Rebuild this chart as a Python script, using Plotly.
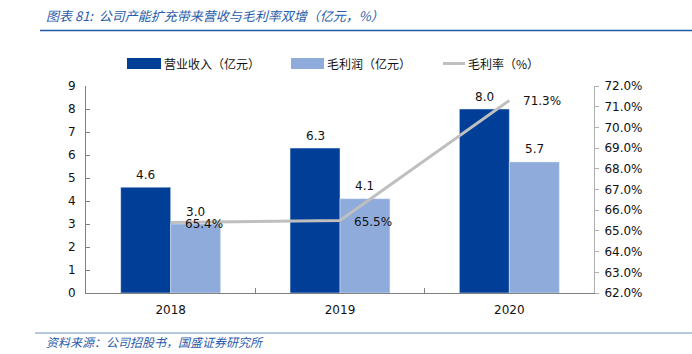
import plotly.graph_objects as go

years = ["2018", "2019", "2020"]
revenue = [4.6, 6.3, 8.0]
gross_profit = [3.0, 4.1, 5.7]
gross_margin = [65.4, 65.5, 71.3]

DARK = "#003E97"
LIGHT = "#8FABDC"
GRAY = "#BFBFBF"
TITLE_BLUE = "#2A5CAA"
NUM_FONT = "DejaVu Sans"
CJK = "Noto Sans CJK SC"

W, H = 692, 354
ML, MR, MT, MB = 86, 98, 86, 61
PW, PH = W - ML - MR, H - MT - MB
BARGAP = 0.41
BAR_OFFSET = PW / len(years) * (1 - BARGAP) / 4  # pixel offset of each bar center

def px(p):
    return (p - ML) / PW
def py(p):
    return (H - MB - p) / PH

fig = go.Figure()
fig.add_trace(go.Bar(x=years, y=revenue, name="营业收入（亿元）", marker_color=DARK,
                     showlegend=False))
fig.add_trace(go.Bar(x=years, y=gross_profit, name="毛利润（亿元）", marker_color=LIGHT,
                     showlegend=False))
fig.add_trace(go.Scatter(x=years, y=gross_margin, yaxis="y2", mode="lines",
                         line=dict(color=GRAY, width=3), name="毛利率（%）",
                         showlegend=False))

for i, (r, g) in enumerate(zip(revenue, gross_profit)):
    fig.add_annotation(x=i, y=r, xref="x", yref="y", text=f"{r:.1f}", showarrow=False,
                       xanchor="center", yanchor="middle", xshift=-BAR_OFFSET, yshift=12.5,
                       font=dict(family=NUM_FONT, size=12, color="#111"))
    fig.add_annotation(x=i, y=g, xref="x", yref="y", text=f"{g:.1f}", showarrow=False,
                       xanchor="center", yanchor="middle", xshift=BAR_OFFSET, yshift=12.5,
                       font=dict(family=NUM_FONT, size=12, color="#111"))

for i, v in enumerate(gross_margin):
    fig.add_annotation(x=i, y=v, xref="x", yref="y2", text=f"{v:.1f}%",
                       showarrow=False, xanchor="left", yanchor="middle",
                       xshift=12, yshift=-1, font=dict(family=NUM_FONT, size=12, color="#111"))

# Custom legend
legend_items = [("rect", DARK, 127, 161, "营业收入（亿元）"),
                ("rect", LIGHT, 291, 324, "毛利润（亿元）"),
                ("line", GRAY, 443, 465, "毛利率（%）")]
for kind, col, x0, x1, label in legend_items:
    if kind == "rect":
        fig.add_shape(type="rect", xref="paper", yref="paper", x0=px(x0), x1=px(x1),
                      y0=py(69), y1=py(58), fillcolor=col, line=dict(width=0))
    else:
        fig.add_shape(type="line", xref="paper", yref="paper", x0=px(x0), x1=px(x1),
                      y0=py(63.5), y1=py(63.5), line=dict(color=col, width=3))
    fig.add_annotation(xref="paper", yref="paper", x=px(x1 + 1), y=py(63.5),
                       text=label, showarrow=False, xanchor="left", yanchor="middle",
                       font=dict(family=CJK, size=12, color="#111"))

# Title and source
fig.add_annotation(xref="paper", yref="paper", x=px(44), y=py(15),
                   text="图表 81:  公司产能扩充带来营收与毛利率双增（亿元，%）",
                   showarrow=False, xanchor="left", yanchor="middle",
                   font=dict(family=CJK, size=13, color=TITLE_BLUE, style="italic"))
fig.add_annotation(xref="paper", yref="paper", x=px(44), y=py(341),
                   text="资料来源：公司招股书，国盛证券研究所",
                   showarrow=False, xanchor="left", yanchor="middle",
                   font=dict(family=CJK, size=12, color=TITLE_BLUE, style="italic"))
fig.add_shape(type="line", xref="paper", yref="paper", x0=px(40), x1=px(W),
              y0=py(30.5), y1=py(30.5), line=dict(color="#1F5AA6", width=1.5))
fig.add_shape(type="line", xref="paper", yref="paper", x0=px(35), x1=px(W),
              y0=py(333), y1=py(333), line=dict(color="#6F8FBF", width=1))

fig.update_layout(
    width=W, height=H,
    margin=dict(l=ML, r=MR, t=MT, b=MB),
    paper_bgcolor="white", plot_bgcolor="white",
    barmode="group", bargap=BARGAP, bargroupgap=0,
    showlegend=False,
    xaxis=dict(type="category", range=[-0.5, len(years) - 0.5], showline=True,
               linecolor="#808080", linewidth=1,
               ticks="inside", tickson="boundaries", ticklen=5, tickcolor="#808080",
               ticklabelstandoff=6,
               tickfont=dict(family=NUM_FONT, size=12, color="#111"), showgrid=False),
    yaxis=dict(range=[0, 9], dtick=1, showline=True, linecolor="#808080", linewidth=1,
               ticks="inside", ticklen=4, tickcolor="#808080", showgrid=False, zeroline=False,
               ticklabelstandoff=7,
               tickfont=dict(family=NUM_FONT, size=12, color="#111")),
    yaxis2=dict(range=[62, 72], dtick=1, overlaying="y", side="right", showline=True,
                linecolor="#B0B0B0", linewidth=1, ticks="outside", ticklen=4,
                tickcolor="#B0B0B0", showgrid=False, zeroline=False,
                tickformat=".1f", ticksuffix="%", ticklabelstandoff=3,
                tickfont=dict(family=NUM_FONT, size=12, color="#111")),
)

fig.write_html("out.html")
